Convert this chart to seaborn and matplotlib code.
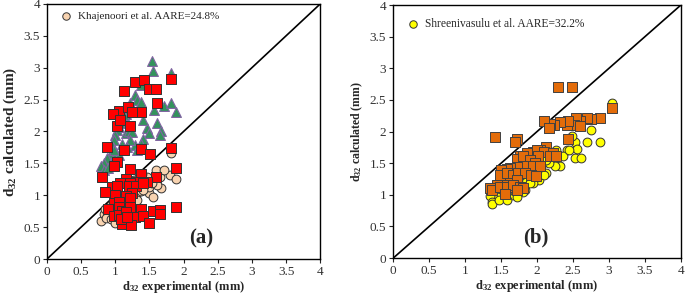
import numpy as np
import pandas as pd
import matplotlib.pyplot as plt
import seaborn as sns

# --------------------------- DATA ---------------------------
# panel (a)
khaj_x = [0.79, 0.84, 0.87, 0.93, 0.97, 0.85, 1.01, 1.07, 1.13, 1.24, 1.29, 1.17, 1.32, 1.37,
          1.49, 1.55, 1.49, 1.59, 1.60, 1.80, 1.89, 1.82, 1.67, 1.61, 1.66, 1.46, 1.27, 1.20,
          1.02, 1.10, 0.93, 1.00, 1.07, 1.32, 1.24, 1.41, 1.54, 1.71, 1.39]
khaj_y = [0.60, 0.71, 0.64, 0.63, 0.72, 0.78, 0.77, 0.85, 0.88, 0.90, 0.88, 0.93, 1.03, 1.06,
          1.03, 0.97, 1.13, 1.32, 1.40, 1.32, 1.25, 1.66, 1.11, 1.16, 1.29, 1.29, 1.24, 1.08,
          0.93, 0.95, 0.85, 0.56, 0.61, 0.93, 0.77, 1.08, 1.19, 1.40, 1.34]

red_x = [1.29, 1.42, 1.13, 1.49, 1.59, 1.82, 1.61, 1.06, 0.96, 1.19, 1.37, 1.24, 1.22, 1.02,
         1.07, 1.37, 1.12, 1.51, 1.82, 0.88, 1.02, 0.98, 0.80, 1.21,
         1.38, 1.89, 1.59, 1.15, 1.31, 1.46, 1.22, 1.07, 0.95, 1.03, 1.20, 1.30, 1.41, 0.85,
         1.00, 1.24, 1.15, 1.22, 0.98, 1.05, 0.90, 1.05, 1.10, 1.22, 1.37, 0.98, 1.05, 1.16,
         1.29, 1.41, 1.10, 1.23, 1.50, 1.55, 1.66, 1.66, 1.89, 1.09, 1.17]
red_y = [2.78, 2.81, 2.63, 2.66, 2.67, 2.82, 2.45, 2.32, 2.27, 2.38, 2.31, 2.30, 2.08, 2.08,
         2.18, 1.72, 1.71, 1.64, 1.74, 1.75, 1.52, 1.46, 1.28, 1.41,
         1.34, 1.42, 1.28, 1.26, 1.21, 1.21, 1.19, 1.19, 1.13, 1.15, 1.15, 1.14, 1.19, 1.05,
         1.01, 1.03, 0.98, 0.95, 0.88, 0.90, 0.78, 0.82, 0.76, 0.81, 0.78, 0.67, 0.69, 0.73,
         0.66, 0.67, 0.55, 0.54, 0.57, 0.76, 0.77, 0.70, 0.81, 0.63, 0.66]

tri_x = [1.53, 1.55, 1.82, 1.37, 1.29, 1.32, 1.37, 1.21, 1.20, 1.16, 1.13, 1.11, 1.07, 1.05,
         1.02, 1.00, 0.98, 0.96, 0.94, 0.88, 0.84, 0.79, 0.83, 0.90, 0.99, 1.06, 0.98, 1.10,
         1.15, 1.20, 1.24, 1.57, 1.71, 1.81, 1.89, 1.61, 1.47, 1.50, 1.67, 1.66, 1.41, 1.41,
         1.37, 1.29, 1.32, 1.40, 1.22, 1.17]
tri_y = [3.10, 2.94, 2.91, 2.72, 2.57, 2.49, 2.46, 2.44, 2.36, 2.28, 2.26, 2.20, 2.13, 2.07,
         2.02, 1.94, 1.86, 1.76, 1.66, 1.58, 1.50, 1.46, 1.40, 1.42, 1.61, 1.63, 1.71, 1.81,
         1.97, 2.00, 1.99, 2.33, 2.40, 2.44, 2.31, 2.13, 2.05, 1.97, 2.00, 1.94, 2.18, 1.88,
         1.81, 1.79, 1.71, 1.72, 1.86, 1.76]

# panel (b)
shree_x = [3.04, 2.75, 2.70, 2.87, 2.53, 2.56, 2.53, 2.61, 2.42, 2.27, 2.32, 2.25, 2.13, 2.16,
           2.13, 2.06, 2.03, 1.95, 1.83, 1.83, 1.81, 1.70, 1.67, 1.65, 1.58, 1.49, 1.44, 1.35,
           1.38, 1.37, 1.47, 1.58, 1.72, 1.63, 1.76, 1.72, 1.90, 2.09, 2.36, 2.45, 2.48]
shree_y = [2.45, 2.02, 1.84, 1.84, 1.84, 1.72, 1.59, 1.59, 1.71, 1.71, 1.45, 1.45, 1.34, 1.50,
           1.55, 1.45, 1.24, 1.18, 1.26, 1.08, 1.05, 1.21, 1.08, 1.00, 1.04, 1.02, 0.97, 0.98,
           0.89, 0.86, 0.92, 0.92, 0.96, 1.24, 1.29, 1.34, 1.18, 1.31, 1.61, 1.71, 1.93]

orange_x = [1.42, 2.29, 2.49, 3.04, 2.87, 2.75, 2.70, 2.60, 2.54, 2.52, 2.60, 2.41, 2.43, 2.32,
            2.23, 2.18, 2.10, 2.16, 2.43, 1.72, 1.70, 2.13, 2.04, 1.95, 2.00, 2.09, 2.22, 1.86,
            1.77, 1.72, 1.81, 2.01, 2.18, 2.27, 1.90, 1.97, 2.04, 1.90, 1.81, 1.72, 1.63, 1.58,
            1.50, 1.49, 1.58, 1.67, 1.74, 1.83, 1.92, 1.99, 1.63, 1.72, 1.54, 1.44, 1.35, 1.38,
            1.49, 1.58, 1.67, 1.76, 1.81, 1.56, 1.72]
orange_y = [1.91, 2.70, 2.71, 2.37, 2.21, 2.20, 2.21, 2.16, 2.21, 2.11, 2.09, 2.11, 2.16, 2.15,
            2.11, 2.12, 2.17, 2.05, 1.89, 1.88, 1.84, 1.76, 1.71, 1.68, 1.71, 1.68, 1.66, 1.66,
            1.62, 1.56, 1.62, 1.62, 1.62, 1.61, 1.55, 1.50, 1.45, 1.45, 1.45, 1.44, 1.42, 1.41,
            1.39, 1.32, 1.34, 1.32, 1.34, 1.35, 1.32, 1.29, 1.19, 1.24, 1.16, 1.16, 1.11, 1.08,
            1.13, 1.13, 1.16, 1.12, 1.11, 1.01, 1.08]

ticks = [0, 0.5, 1, 1.5, 2, 2.5, 3, 3.5, 4]
tick_labels = ['0', '0.5', '1', '1.5', '2', '2.5', '3', '3.5', '4']

# --------------------------- SETTINGS ---------------------------
sns.set_style("white")
plt.rcParams['font.family'] = ['Liberation Serif', 'DejaVu Serif']
plt.rcParams['mathtext.fontset'] = 'custom'
plt.rcParams['mathtext.rm'] = 'Liberation Serif'
plt.rcParams['mathtext.bf'] = 'Liberation Serif:bold'

fig = plt.figure(figsize=(6.85, 2.96), dpi=100)
ax_a = fig.add_axes([0.0686, 0.125, 0.399, 0.862])
ax_b = fig.add_axes([0.574, 0.128, 0.42, 0.855])


def style_axes(ax, tag, tag_x, ylab_size):
    ax.plot([0, 4], [0, 4], color='black', lw=1.2, zorder=1)
    ax.set_xlim(0, 4)
    ax.set_ylim(0, 4)
    ax.set_xticks(ticks)
    ax.set_xticklabels(tick_labels)
    ax.set_yticks(ticks)
    ax.set_yticklabels(tick_labels)
    ax.tick_params(axis='both', direction='out', length=3, width=0.8, labelsize=9.5,
                   bottom=True, left=True, pad=2, colors='#222222', labelcolor='#333333')
    for s in ax.spines.values():
        s.set_color('black')
        s.set_linewidth(1.0)
    ax.set_xlabel(r'$\mathbf{d_{32}}$ experimental (mm)', fontsize=9, fontweight='bold', labelpad=1)
    ax.set_ylabel(r'$\mathbf{d_{32}}$ calculated (mm)', fontsize=ylab_size, fontweight='bold', labelpad=3)
    ax.text(tag_x, 0.06, tag, transform=ax.transAxes, fontsize=15, fontweight='bold')


# --------------------- PANEL (a) ---------------------
sns.scatterplot(x=khaj_x, y=khaj_y, ax=ax_a, marker='o', s=40, color='#F8D3B0',
                edgecolor='#333333', linewidth=0.7, zorder=3, label='Khajenoori et al. AARE=24.8%')
sns.scatterplot(x=tri_x, y=tri_y, ax=ax_a, marker='^', s=50, color='#33935C',
                edgecolor='#8064A2', linewidth=0.8, zorder=4)
sns.scatterplot(x=red_x, y=red_y, ax=ax_a, marker='s', s=44, color='#FF0000',
                edgecolor='#333333', linewidth=0.7, zorder=5)
style_axes(ax_a, '(a)', 0.52, 11)
ax_a.legend(loc='upper left', frameon=False, fontsize=8, handletextpad=0.1,
            borderaxespad=0.3, markerscale=0.85, bbox_to_anchor=(0.0, 1.0))

# --------------------- PANEL (b) ---------------------
sns.scatterplot(x=shree_x, y=shree_y, ax=ax_b, marker='o', s=40, color='#FFFF00',
                edgecolor='#333333', linewidth=0.7, zorder=3, label='Shreenivasulu et al. AARE=32.2%')
sns.scatterplot(x=orange_x, y=orange_y, ax=ax_b, marker='s', s=46, color='#E36C0A',
                edgecolor='#404040', linewidth=0.7, zorder=4)
style_axes(ax_b, '(b)', 0.45, 8.5)
ax_b.legend(loc='upper left', frameon=False, fontsize=8.3, handletextpad=0.1,
            borderaxespad=0.3, markerscale=0.85, bbox_to_anchor=(0.0, 0.98))

fig.savefig('out.png', dpi=100)
